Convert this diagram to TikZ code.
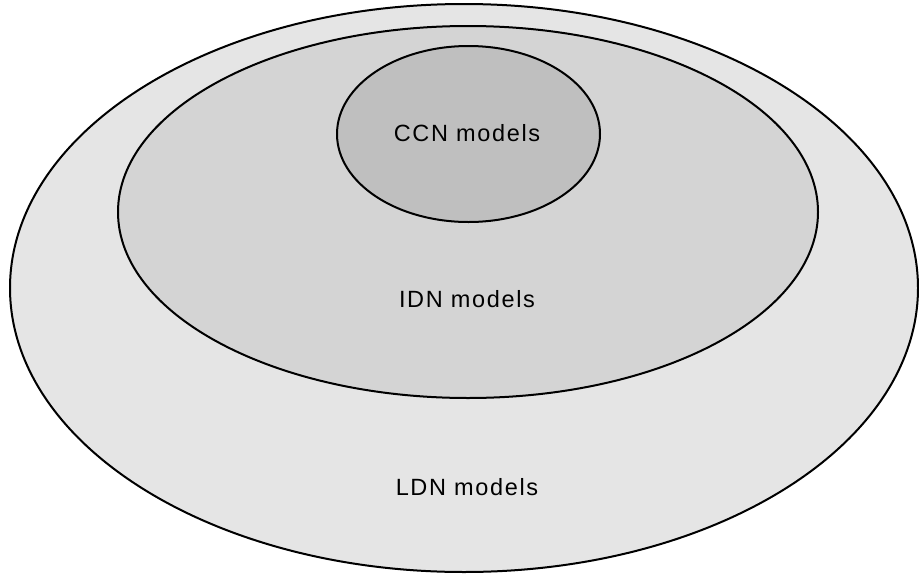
\documentclass[tikz,border=0pt]{standalone}
\usepackage{fontspec}
\setmainfont{Liberation Sans}[LetterSpace=7]
\tikzset{set/.style={draw=black,line width=2pt},
    lbl/.style={anchor=center,font=\fontsize{23.5}{28}\selectfont}}
\begin{document}
\begin{tikzpicture}[x=1pt,y=-1pt]
            \useasboundingbox (0,0) rectangle (919,576);
            \filldraw[set,fill=black!10] (464,288) ellipse (454 and 284);
            \filldraw[set,fill=black!17] (468,212) ellipse (350 and 186);
            \filldraw[set,fill=black!25] (468.5,134) ellipse (131.5 and 88);
            \node[lbl] at (467,133) (ccn) {CCN models};
            \node[lbl] at (467,299) (idn) {IDN models};
            \node[lbl] at (467,487) (ldn) {LDN models};
        \end{tikzpicture}
\end{document}
